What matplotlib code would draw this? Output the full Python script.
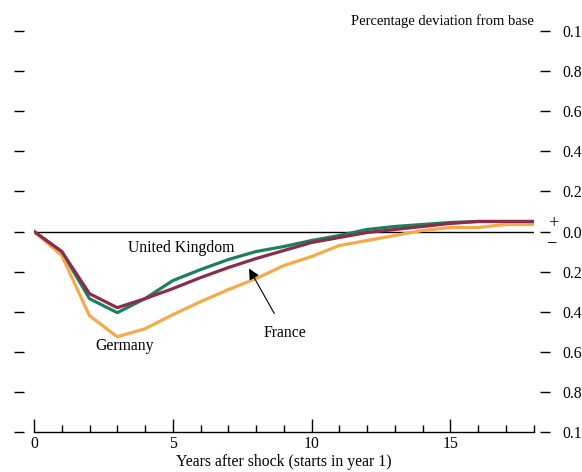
import matplotlib
matplotlib.use("Agg")
import matplotlib.pyplot as plt
from matplotlib.ticker import MultipleLocator, FixedLocator

years = list(range(0, 19))
united_kingdom = [0.0, -0.10, -0.335, -0.405, -0.335, -0.245, -0.19, -0.14, -0.10, -0.075,
                  -0.045, -0.02, 0.01, 0.025, 0.035, 0.045, 0.05, 0.05, 0.05]
germany = [0.0, -0.12, -0.42, -0.525, -0.485, -0.415, -0.35, -0.29, -0.235, -0.17,
           -0.125, -0.07, -0.045, -0.02, 0.005, 0.02, 0.02, 0.035, 0.035]
france = [0.0, -0.10, -0.31, -0.38, -0.335, -0.285, -0.23, -0.18, -0.135, -0.095,
          -0.055, -0.03, -0.005, 0.01, 0.025, 0.04, 0.05, 0.05, 0.05]

y_ticks = [1.0, 0.8, 0.6, 0.4, 0.2, 0.0, -0.2, -0.4, -0.6, -0.8, -1.0]
y_tick_labels = ["0.1", "0.8", "0.6", "0.4", "0.2", "0.0", "0.2", "0.4", "0.6", "0.8", "0.1"]
x_major = [0, 5, 10, 15]

plt.rcParams["font.family"] = ["Liberation Serif", "DejaVu Serif"]
FS = 11.3

fig = plt.figure(figsize=(5.82, 4.72), dpi=100)
ax = fig.add_axes([34 / 582, 1 - 432 / 472, (533.5 - 34) / 582, (432 - 31) / 472])
ax.set_xlim(0, 18)
ax.set_ylim(-1, 1)

green = "#1b8060"
orange = "#f7a94a"
maroon = "#8c2c48"

ax.axhline(0, color="black", lw=1.0, zorder=1)
ax.plot(years, united_kingdom, color=green, lw=2.3, zorder=2)
ax.plot(years, germany, color=orange, lw=2.3, zorder=3)
ax.plot(years, france, color=maroon, lw=2.3, zorder=4)

# Only the bottom axis line is drawn; left/right ticks float as short dashes
ax.spines["top"].set_visible(False)
ax.spines["left"].set_position(("outward", 7))
ax.spines["left"].set_visible(False)
ax.spines["right"].set_position(("outward", 4.5))
ax.spines["right"].set_visible(False)
ax.spines["bottom"].set_linewidth(1.0)

ax.yaxis.set_major_locator(FixedLocator(y_ticks))
ax.set_yticklabels(y_tick_labels)
ax.tick_params(axis="y", which="major", left=True, right=True, labelleft=False,
               labelright=True, direction="out", length=7.5, width=1.0,
               pad=9.0, labelsize=FS)

ax.xaxis.set_major_locator(FixedLocator(x_major))
ax.xaxis.set_minor_locator(MultipleLocator(1))
ax.tick_params(axis="x", which="major", direction="in", length=9.5, width=1.0,
               pad=3, labelsize=FS)
ax.tick_params(axis="x", which="minor", direction="in", length=5, width=1.0)

ax.set_xlabel("Years after shock (starts in year 1)", fontsize=FS, labelpad=1)

# Sign markers beside the zero label
ax.annotate("+", xy=(1, 0), xycoords=ax.get_yaxis_transform(), xytext=(14, 6),
            textcoords="offset points", fontsize=FS + 2, ha="center", va="center")
ax.annotate("\u2212", xy=(1, 0), xycoords=ax.get_yaxis_transform(), xytext=(12.6, -8),
            textcoords="offset points", fontsize=FS + 2, ha="center", va="center")

ax.text(1.0, 1.025, "Percentage deviation from base", transform=ax.transAxes,
        ha="right", va="center", fontsize=10.5)

ax.text(3.4, -0.08, "United Kingdom", fontsize=FS, ha="left", va="center")
ax.text(2.2, -0.57, "Germany", fontsize=FS, ha="left", va="center")
ax.annotate("France", xy=(7.75, -0.185), xytext=(9.05, -0.505), fontsize=FS,
            ha="center", va="center",
            arrowprops=dict(arrowstyle="-|>", color="black", lw=0.8,
                            mutation_scale=16, shrinkA=7, shrinkB=0))

fig.savefig("out.png", dpi=100)
